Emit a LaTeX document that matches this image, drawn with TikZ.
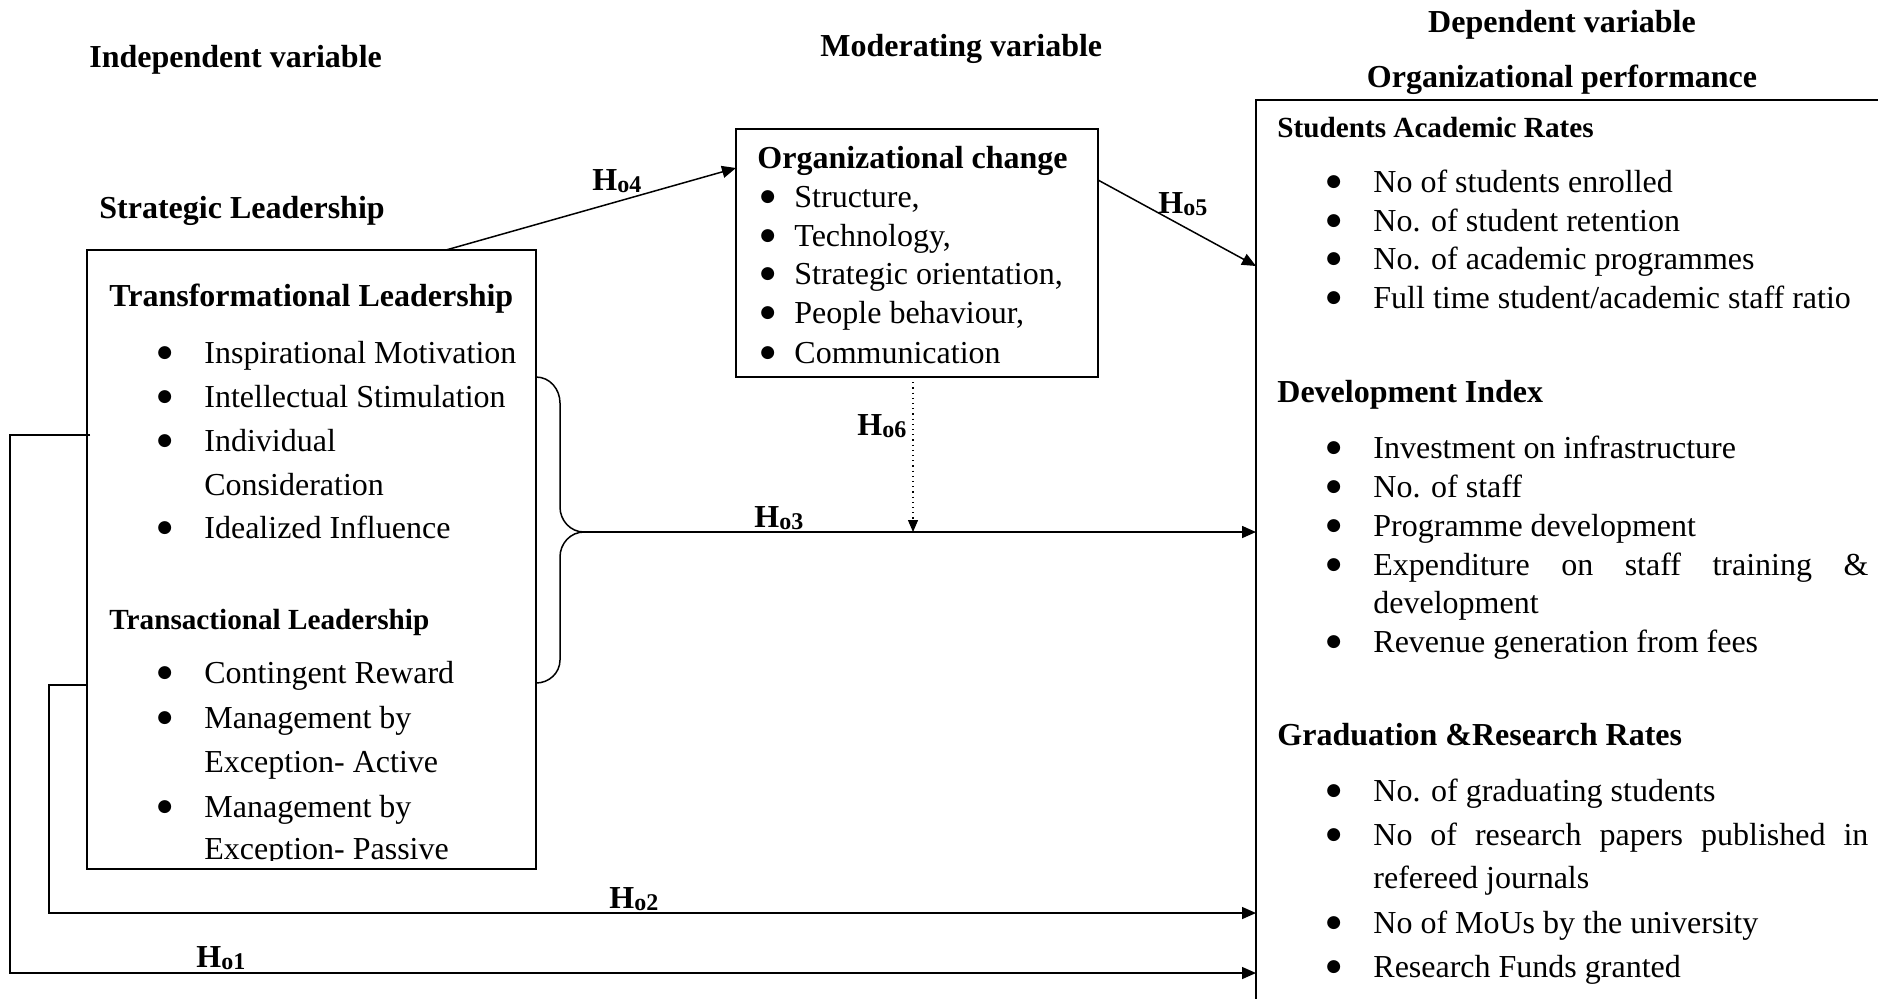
\documentclass[tikz,border=0pt]{standalone}
\usepackage{fontspec}
\setmainfont{Liberation Serif}
\newfontfamily\symf{DejaVu Sans}
\usetikzlibrary{arrows.meta}
\newcommand{\bodyf}{\fontsize{16}{22}\selectfont}
\newcommand{\smallhf}{\fontsize{14.6}{18}\selectfont\bfseries}
\newcommand{\hyp}[1]{\bfseries H\raisebox{-1.2pt}{\fontsize{12}{12}\selectfont o#1}}
\newcommand{\bul}[1]{\makebox[#1][l]{\raisebox{2.6pt}{\symf\fontsize{8.5}{9}\selectfont ●}}}
\begin{document}
\begin{tikzpicture}[x=0.5pt,y=-0.5pt,
  txt/.style={anchor=base west, inner sep=0pt, font=\bodyf},
  head/.style={anchor=base west, inner sep=0pt, font=\bodyf\bfseries},
  shead/.style={anchor=base west, inner sep=0pt, font=\smallhf},
  hlab/.style={anchor=base west, inner sep=0pt, font=\bodyf},
  boxl/.style={draw, line width=1pt},
  conn/.style={line width=0.75pt},
  arr/.style={conn, -{Triangle[length=7pt,width=6pt]}},
]
\useasboundingbox (0,0) rectangle (1878,998);
\clip (0,0) rectangle (1878,998);

% ---------- boxes ----------
\draw[boxl] (87,250) rectangle (536,869);
\draw[boxl] (736,129) rectangle (1098,377);
\draw[boxl] (1256,100) rectangle (1950,1050);
\coordinate (sl-nw) at (87,250);
\coordinate (oc-nw) at (736,129);
\coordinate (dp-nw) at (1256,100);

% ---------- top labels ----------
\node[head] (indep) at (89,67) {Independent variable};
\node[head] (stratl) at (99,218) {Strategic Leadership};
\node[head] (moder) at (820,56) {Moderating variable};
\node[head, anchor=base] (depv) at (1562,32) {Dependent variable};
\node[head, anchor=base] (orgp) at (1562,87) {Organizational performance};

% ---------- left box content ----------
\begin{scope}
\clip (87,250) rectangle (536,860);
\node[head] (trf) at (109,306) {Transformational Leadership};
\node[txt] (t1) at (157,363) {\bul{23.5pt}Inspirational Motivation};
\node[txt] (t2) at (157,407) {\bul{23.5pt}Intellectual Stimulation};
\node[txt] (t3) at (157,451) {\bul{23.5pt}Individual};
\node[txt] (t3b) at (204,495) {Consideration};
\node[txt] (t4) at (157,538) {\bul{23.5pt}Idealized Influence};
\node[shead] (trc) at (109,629) {Transactional Leadership};
\node[txt] (r1) at (157,683) {\bul{23.5pt}Contingent Reward};
\node[txt] (r2) at (157,728) {\bul{23.5pt}Management by};
\node[txt] (r2b) at (204,772) {Exception- Active};
\node[txt] (r3) at (157,817) {\bul{23.5pt}Management by};
\node[txt] (r3b) at (204,859) {Exception- Passive};
\end{scope}

% ---------- organizational change box ----------
\node[head] (och) at (757,168) {Organizational change};
\node[txt] (o1) at (760,207) {\bul{17pt}Structure,};
\node[txt] (o2) at (760,246) {\bul{17pt}Technology,};
\node[txt] (o3) at (760,284) {\bul{17pt}Strategic orientation,};
\node[txt] (o4) at (760,323) {\bul{17pt}People behaviour,};
\node[txt] (o5) at (760,363) {\bul{17pt}Communication};

% ---------- dependent box ----------
\node[shead] (sar) at (1277,137) {Students Academic Rates};
\node[txt] (s1) at (1326,192) {\bul{23.5pt}No of students enrolled};
\node[txt] (s2) at (1326,231) {\bul{23.5pt}No. of student retention};
\node[txt] (s3) at (1326,269) {\bul{23.5pt}No. of academic programmes};
\node[txt] (s4) at (1326,308) {\bul{23.5pt}Full time student/academic staff ratio};

\node[head] (dix) at (1277,402) {Development Index};
\node[txt] (d1) at (1326,458) {\bul{23.5pt}Investment on infrastructure};
\node[txt] (d2) at (1326,497) {\bul{23.5pt}No. of staff};
\node[txt] (d3) at (1326,536) {\bul{23.5pt}Programme development};
\node[txt] (d4) at (1326,575) {\bul{23.5pt}\makebox[247.5pt][s]{Expenditure on staff training \&}};
\node[txt] (d4b) at (1373,613) {development};
\node[txt] (d5) at (1326,652) {\bul{23.5pt}Revenue generation from fees};

\node[head] (grr) at (1277,745) {Graduation \&Research Rates};
\node[txt] (g1) at (1326,801) {\bul{23.5pt}No. of graduating students};
\node[txt] (g2) at (1326,845) {\bul{23.5pt}\makebox[247.5pt][s]{No of research papers published in}};
\node[txt] (g2b) at (1373,888) {refereed journals};
\node[txt] (g3) at (1326,933) {\bul{23.5pt}No of MoUs by the university};
\node[txt] (g4) at (1326,977) {\bul{23.5pt}Research Funds granted};

% ---------- connector anchor coordinates ----------
\coordinate (h4s) at (446,250);
\coordinate (h4e) at (736,168);
\coordinate (h5s) at (1098,180);
\coordinate (h5e) at (1256,266);
\coordinate (h6s) at (913,377);
\coordinate (h6e) at (913,532);
\coordinate (brt) at (536,377);
\coordinate (brb) at (536,683);
\coordinate (brtip) at (584,532);
\coordinate (h3e) at (1256,532);
\coordinate (h2s) at (87,685);
\coordinate (h2a) at (49,685);
\coordinate (h2b) at (49,913);
\coordinate (h2e) at (1256,913);
\coordinate (h1s) at (90,435);
\coordinate (h1a) at (10,435);
\coordinate (h1b) at (10,973);
\coordinate (h1e) at (1256,973);

% ---------- connectors ----------
\draw[arr] (h4s) -- (h4e);
\draw[arr] (h5s) -- (h5e);
\draw[conn, line width=0.6pt, dotted, -{Triangle[length=6pt,width=5pt]}] (h6s) -- (h6e);
\draw[conn] (brt) to[out=0,in=90] (560,403) -- (560,507) to[out=-90,in=180] (brtip)
            to[out=180,in=90] (560,557) -- (560,660) to[out=-90,in=0] (brb);
\draw[arr] (brtip) -- (h3e);
\draw[arr] (h2s) -- (h2a) -- (h2b) -- (h2e);
\draw[arr] (h1s) -- (h1a) -- (h1b) -- (h1e);

% ---------- hypothesis labels ----------
\node[hlab] (l4) at (592,190) {\hyp{4}};
\node[hlab] (l5) at (1158,213) {\hyp{5}};
\node[hlab] (l6) at (857,435) {\hyp{6}};
\node[hlab] (l3) at (754,527) {\hyp{3}};
\node[hlab] (l2) at (609,908) {\hyp{2}};
\node[hlab] (l1) at (196,967) {\hyp{1}};
\end{tikzpicture}
\end{document}
